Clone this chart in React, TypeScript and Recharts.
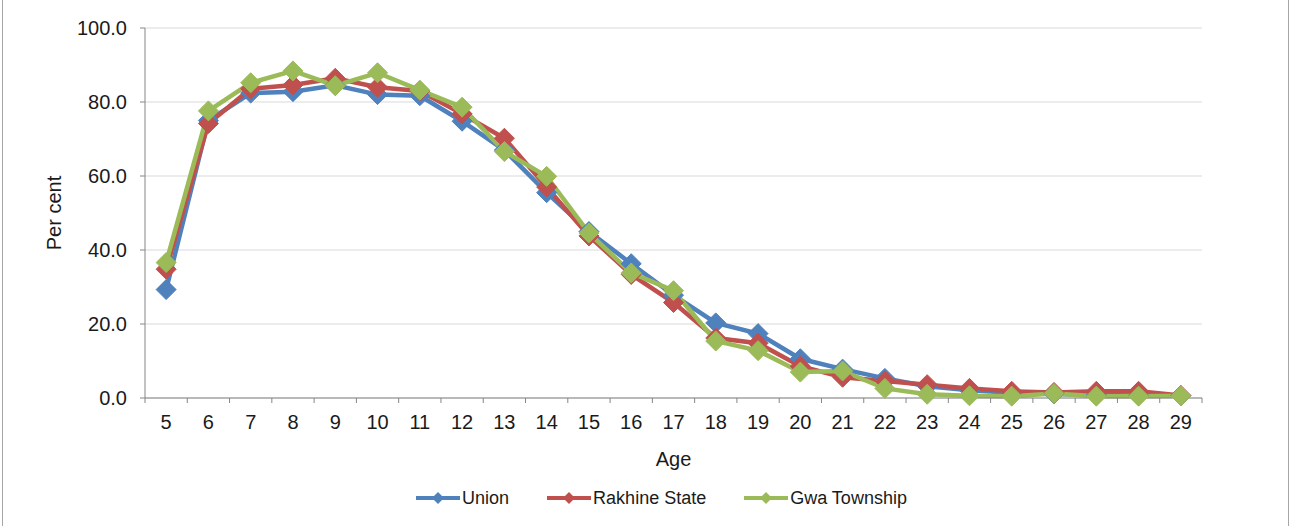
import React from "react";
import { LineChart, Line, XAxis, YAxis, CartesianGrid, Legend } from "recharts";

const ages = [5, 6, 7, 8, 9, 10, 11, 12, 13, 14, 15, 16, 17, 18, 19, 20, 21, 22, 23, 24, 25, 26, 27, 28, 29];
const union = [29.3, 75.0, 82.4, 82.8, 84.5, 82.0, 81.7, 74.8, 67.0, 55.5, 45.0, 36.3, 27.8, 20.3, 17.4, 10.6, 7.8, 5.3, 3.2, 2.1, 1.4, 1.1, 0.8, 0.7, 0.6];
const rakhine = [34.8, 74.2, 83.6, 84.6, 86.4, 84.0, 83.0, 76.8, 70.2, 57.0, 43.8, 33.4, 25.8, 16.2, 14.8, 8.6, 5.6, 4.6, 3.6, 2.6, 1.8, 1.5, 1.8, 1.8, 0.7];
const gwa = [36.6, 77.6, 85.2, 88.4, 84.4, 87.9, 83.2, 78.6, 66.6, 59.9, 44.6, 33.8, 29.0, 15.4, 12.8, 7.0, 7.3, 2.6, 1.0, 0.6, 0.5, 1.2, 0.5, 0.5, 0.6];
const yTicks = [0, 20, 40, 60, 80, 100];

const data = ages.map((age, i) => ({ age, union: union[i], rakhine: rakhine[i], gwa: gwa[i] }));

const series = [
  { key: "union", name: "Union", color: "#4F81BD" },
  { key: "rakhine", name: "Rakhine State", color: "#C0504D" },
  { key: "gwa", name: "Gwa Township", color: "#9BBB59" },
];

const FONT = "'Liberation Sans', Arial, sans-serif";
const TEXT = "#1a1a1a";
const AXIS = "#868686";
const X_GAP = 17;

const diamond = (color: string, r: number) => (props: any) => {
  const { cx, cy, index } = props;
  if (cx == null || cy == null) return <g key={index} />;
  const pts = `${cx},${cy - r} ${cx + r},${cy} ${cx},${cy + r} ${cx - r},${cy}`;
  return <polygon key={index} points={pts} fill={color} stroke={color} strokeWidth={1} />;
};

const AgeTick = (props: any) => {
  const { x, y, payload, index } = props;
  const half = payload.offset || 21.1;
  const ay = y - X_GAP;
  return (
    <g>
      <line x1={x - half} x2={x - half} y1={ay} y2={ay + 5} stroke={AXIS} />
      {index === ages.length - 1 && <line x1={x + half} x2={x + half} y1={ay} y2={ay + 5} stroke={AXIS} />}
      <text x={x} y={y} dy="0.71em" textAnchor="middle" fill={TEXT} fontSize={20} fontFamily={FONT}>
        {payload.value}
      </text>
    </g>
  );
};

// legend follows the series order (Union, Rakhine State, Gwa Township)
const LegendContent = () => (
  <div style={{ display: "flex", justifyContent: "center", alignItems: "center", gap: 38, height: 26, paddingLeft: 32, fontFamily: FONT, fontSize: 18, color: TEXT }}>
    {series.map((s) => (
      <div key={s.key} style={{ display: "flex", alignItems: "center" }}>
        <svg width={44} height={14}>
          <line x1={0} x2={44} y1={7} y2={7} stroke={s.color} strokeWidth={4} />
          <polygon points="22,1 28,7 22,13 16,7" fill={s.color} />
        </svg>
        <span style={{ marginLeft: 2 }}>{s.name}</span>
      </div>
    ))}
  </div>
);

export default function App() {
  return (
    <div style={{ position: "absolute", left: 0, top: 0, width: 1291, height: 526, background: "#fff" }}>
      <div style={{ position: "absolute", left: 2, top: 0, width: 1, height: 526, background: "#a6a6a6" }} />
      <div style={{ position: "absolute", left: 1288, top: 0, width: 1, height: 526, background: "#a6a6a6" }} />
      <LineChart width={1291} height={526} data={data} margin={{ top: 28, right: 89, left: 0, bottom: 62 }}>
        <CartesianGrid vertical={false} stroke="#d9d9d9" />
        <XAxis
          dataKey="age"
          scale="band"
          stroke={AXIS}
          tickLine={false}
          tickSize={0}
          tickMargin={X_GAP}
          height={40}
          interval={0}
          tick={<AgeTick />}
          label={{ value: "Age", position: "bottom", offset: 14, fill: TEXT, fontSize: 20, fontFamily: FONT }}
        />
        <YAxis
          domain={[0, 100]}
          ticks={yTicks}
          width={145}
          stroke={AXIS}
          tickSize={5}
          tickMargin={13}
          tickFormatter={(v: number) => v.toFixed(1)}
          tick={{ fill: TEXT, fontSize: 20, fontFamily: FONT }}
          label={{ value: "Per cent", angle: -90, position: "insideLeft", offset: 54, fill: TEXT, fontSize: 20, fontFamily: FONT, style: { textAnchor: "middle" } }}
        />
        <Legend content={<LegendContent />} wrapperStyle={{ left: 0, width: 1291, top: 485, bottom: "auto" }} />
        {series.map((s) => (
          <Line
            key={s.key}
            dataKey={s.key}
            name={s.name}
            stroke={s.color}
            strokeWidth={4.5}
            dot={diamond(s.color, 10)}
            activeDot={false}
            isAnimationActive={false}
          />
        ))}
      </LineChart>
    </div>
  );
}
